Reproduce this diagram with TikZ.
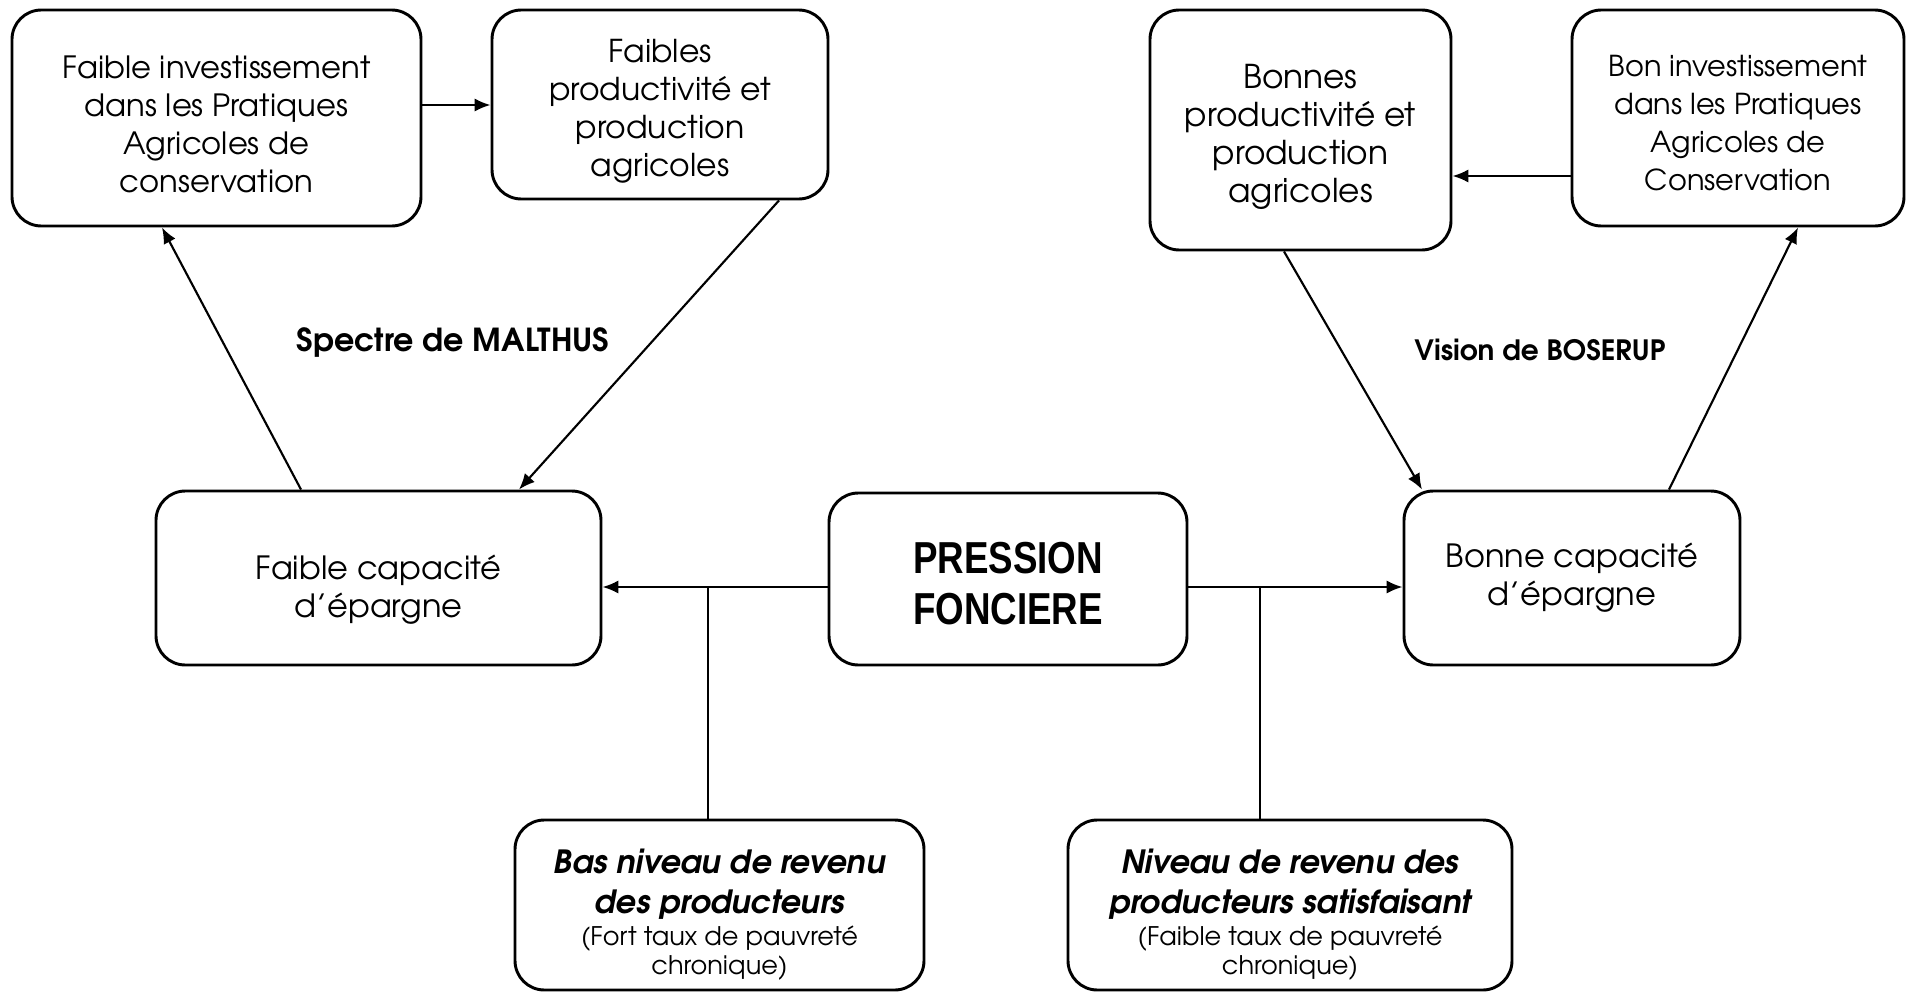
\documentclass[tikz,border=0pt]{standalone}
\usepackage{fontspec}
\setmainfont{texgyreadventor}[Extension=.otf, UprightFont=*-regular, BoldFont=*-bold, ItalicFont=*-italic, BoldItalicFont=*-bolditalic]
\newfontfamily\pressfont[FakeStretch=0.82]{Liberation Sans}
\usetikzlibrary{arrows.meta}

% text sizes and a strut that pushes a text block down inside its box
\newcommand{\fsz}[1]{\fontsize{#1}{14.25}\selectfont}
\newcommand{\drop}[1]{\rule{0pt}{\dimexpr\fontcharht\font`\B+#1\relax}}
\newcommand{\revhead}{\bfseries\itshape\fontsize{12}{15.6}\selectfont}
\newcommand{\revnote}{\normalfont\fontsize{9.6}{11}\selectfont}

\begin{document}
\begin{tikzpicture}[x=0.375pt, y=-0.375pt, >={Latex[length=6pt,width=5pt]}, line join=round]

    % let's define some key values
    \def\px{0.375pt}
    \def\yupper{105}
    \def\ylower{176}
    \def\ymid{587}
    \def\xlfork{708}
    \def\xrfork{1260}

    % Styles
    \tikzstyle{box}=[draw, line width=1.1pt, rounded corners=11pt, align=center,
        inner sep=0pt, font=\fsz{11}]
    \tikzstyle{revbox}=[box, font=\fontsize{9.6}{11}\selectfont]
    \tikzstyle{link}=[line width=0.8pt]
    \tikzstyle{title}=[font=\bfseries\fontsize{10.5}{13}\selectfont]

    \useasboundingbox (0,0) rectangle (1914,992);

    % Malthus side
    \node[box, font=\fsz{11.5}, minimum width=409*\px, minimum height=216*\px] (faibleinv) at (216.5,118)
        {\drop{4.5pt}Faible investissement\\dans les Pratiques\\Agricoles de\\conservation};
    \node[box, font=\fsz{11.8}, minimum width=336*\px, minimum height=189*\px] (faibleprod) at (660,104.5)
        {\drop{5.2pt}Faibles\\productivité et\\production\\agricoles};
    \node[box, font=\fsz{12}, minimum width=445*\px, minimum height=174*\px] (faiblecap) at (378.5,578)
        {\drop{9pt}Faible capacité\\d'épargne};

    % Boserup side
    \node[box, font=\fsz{12.3}, minimum width=301*\px, minimum height=240*\px] (bonprod) at (1300.5,130)
        {\drop{5.2pt}Bonnes\\productivité et\\production\\agricoles};
    \node[box, font=\fsz{10.8}, minimum width=332*\px, minimum height=216*\px] (boninv) at (1738,118)
        {\drop{4.1pt}Bon investissement\\dans les Pratiques\\Agricoles de\\Conservation};
    \node[box, font=\fsz{12}, minimum width=336*\px, minimum height=174*\px] (bonnecap) at (1572,578)
        {Bonne capacité\\d'épargne};

    % centre
    \node[box, minimum width=358*\px, minimum height=172*\px,
        font=\pressfont\bfseries\fontsize{16.8}{19.2}\selectfont] (pression) at (1008,579)
        {\drop{3.8pt}PRESSION\\FONCIERE};

    % revenue boxes
    \node[revbox, minimum width=409*\px, minimum height=170*\px] (basrev) at (719.5,905)
        {\revhead\drop{7.4pt}Bas niveau de revenu\\[4.2pt]\revhead des producteurs\\[0.7pt]
        \revnote (Fort taux de pauvreté\\\revnote chronique)};
    \node[revbox, minimum width=444*\px, minimum height=170*\px] (bonrev) at (1290,905)
        {\revhead\drop{7.4pt}Niveau de revenu des\\[4.2pt]\revhead producteurs satisfaisant\\[0.7pt]
        \revnote (Faible taux de pauvreté\\\revnote chronique)};

    % titles
    \node[title, font=\bfseries\fontsize{11.9}{14}\selectfont] (malthus) at (453,343) {Spectre de MALTHUS};
    \node[title] (boserup) at (1540,350) {Vision de BOSERUP};

    % Malthus cycle
    \draw[->, link] (faibleinv.east |- 0,\yupper) -- (faibleprod.west |- 0,\yupper);
    \draw[->, link] (faibleprod.south -| 779,0) -- (faiblecap.north -| 519,0);
    \draw[->, link] (faiblecap.north -| 301,0) -- (faibleinv.south -| 162,0);

    % Boserup cycle
    \draw[->, link] (boninv.west |- 0,\ylower) -- (bonprod.east |- 0,\ylower);
    \draw[->, link] (bonprod.south -| 1284,0) -- (bonnecap.north -| 1422,0);
    \draw[->, link] (bonnecap.north -| 1669,0) -- (boninv.south -| 1798,0);

    % pressure to both sides
    \draw[->, link] (pression.west |- 0,\ymid) -- (faiblecap.east |- 0,\ymid);
    \draw[->, link] (pression.east |- 0,\ymid) -- (bonnecap.west |- 0,\ymid);

    % forks down to revenue
    \coordinate (lfork) at (\xlfork,\ymid);
    \coordinate (rfork) at (\xrfork,\ymid);
    \draw[line width=0.6pt] (lfork) -- (basrev.north -| lfork);
    \draw[line width=0.6pt] (rfork) -- (bonrev.north -| rfork);

\end{tikzpicture}
\end{document}
